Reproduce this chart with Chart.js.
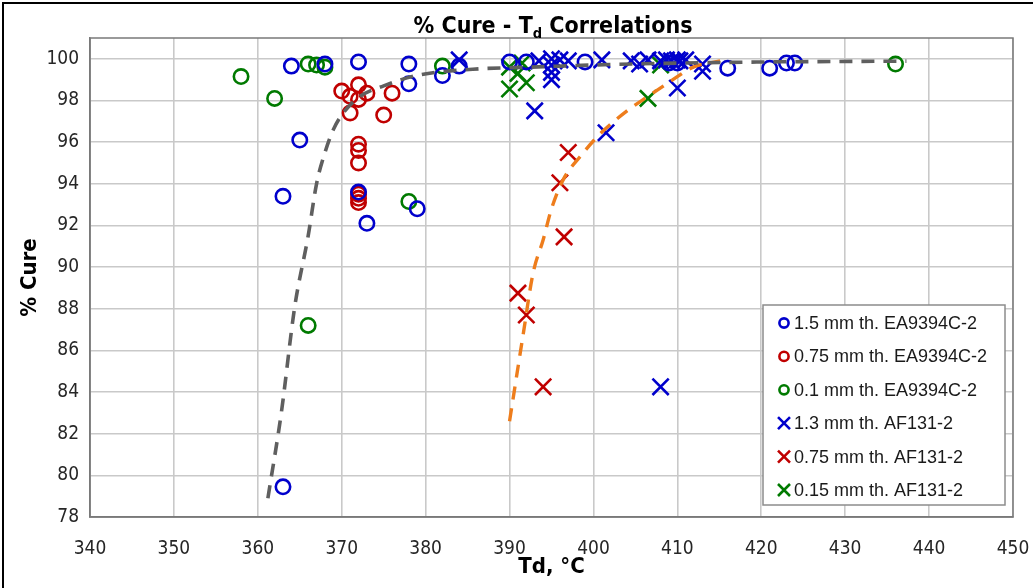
<!DOCTYPE html>
<html>
<head>
<meta charset="utf-8">
<title>% Cure - Td Correlations</title>
<script src="https://cdn.jsdelivr.net/npm/chart.js@4.4.1/dist/chart.umd.min.js"></script>
<style>
  html, body { margin: 0; padding: 0; background: #ffffff; }
  #wrap { position: relative; width: 1033px; height: 588px; overflow: hidden; }
  #frame { position: absolute; left: 2px; top: 2px; width: 1040px; height: 600px;
           border-left: 2px solid #000; border-top: 2px solid #000; pointer-events: none; }
  canvas { display: block; }
</style>
</head>
<body>
<div id="wrap">
  <canvas id="chart" width="1033" height="588"></canvas>
  <div id="frame"></div>
</div>
<script>
// Tick values
const xTicks = [340, 350, 360, 370, 380, 390, 400, 410, 420, 430, 440, 450];
const yTicks = [78, 80, 82, 84, 86, 88, 90, 92, 94, 96, 98, 100];

// Series labels
const seriesLabels = [
  '1.5 mm th. EA9394C-2',
  '0.75 mm th. EA9394C-2',
  '0.1 mm th. EA9394C-2',
  '1.3 mm th. AF131-2',
  '0.75 mm th. AF131-2',
  '0.15 mm th. AF131-2'
];

// EA9394C-2, 1.5 mm  [Td, % cure]
const ea15 = [
  [364, 99.65], [365, 96.1], [363, 93.4], [363, 79.45], [368, 99.75],
  [372, 99.85], [372, 93.6], [373, 92.1], [378, 99.75], [378, 98.8],
  [379, 92.8], [382, 99.2], [384, 99.65], [390, 99.85], [392, 99.85],
  [399, 99.85], [409, 99.8], [410, 99.8], [416, 99.55], [421, 99.55],
  [423, 99.8], [424, 99.8]
];
// EA9394C-2, 0.75 mm
const ea075 = [
  [370, 98.45], [372, 98.75], [371, 98.2], [373, 98.35], [372, 98.05],
  [371, 97.4], [376, 98.35], [375, 97.3], [372, 95.9], [372, 95.6],
  [372, 95.0], [372, 93.5], [372, 93.3], [372, 93.1]
];
// EA9394C-2, 0.1 mm
const ea01 = [
  [358, 99.15], [362, 98.1], [366, 99.75], [367, 99.7], [368, 99.6],
  [366, 87.2], [378, 93.15], [382, 99.65], [436, 99.75]
];
// AF131-2, 1.3 mm
const af13 = [
  [384, 99.95], [393, 97.5], [393.5, 99.9], [395, 100.0], [395, 99.7],
  [395, 99.35], [395, 99.0], [396, 99.95], [397, 99.9], [401, 99.95],
  [401.5, 96.45], [404.5, 99.9], [405.5, 99.75], [406.5, 99.95], [408, 99.9],
  [408.7, 99.95], [409.3, 99.9], [410, 99.95], [410.3, 99.9], [411, 99.95],
  [413, 99.75], [413, 99.4], [410, 98.6], [408, 84.25]
];
// AF131-2, 0.75 mm
const af075 = [
  [397, 95.5], [396, 94.05], [396.5, 91.45], [391, 88.75], [392, 87.7], [394, 84.25]
];
// AF131-2, 0.15 mm
const af015 = [
  [390, 99.6], [391, 99.3], [390, 98.55], [392, 98.85], [391.5, 99.8],
  [408, 99.7], [406.5, 98.1]
];

// Correlation curves
const fitEA = [
  [361.2, 78.9], [362.8, 83.0], [364.4, 88.1], [366.0, 91.5], [367.0, 94.0],
  [368.0, 95.5], [369.0, 96.6], [370.0, 97.3], [372.2, 98.2], [375.0, 98.7],
  [378.9, 99.2], [385.6, 99.5], [392.4, 99.6], [402.3, 99.73], [418.3, 99.84],
  [437.3, 99.89]
];
const fitAF = [
  [390.0, 82.6], [391.6, 86.7], [392.8, 89.7], [394.0, 91.3], [395.0, 92.8],
  [396.4, 94.2], [398.4, 95.3], [400.8, 96.4], [404.0, 97.5], [406.5, 98.2],
  [409.1, 98.9], [411.9, 99.6], [415.1, 99.9]
];

const BLUE = '#0000cc', RED = '#c00000', GREEN = '#007a00';
const NARROW = "'Liberation Sans Narrow', 'DejaVu Sans Condensed', sans-serif";
const toXY = arr => arr.map(([x, y]) => ({ x, y }));

function pointSet(label, data, color, style) {
  const isCross = style === 'crossRot';
  return {
    type: 'scatter', label, data: toXY(data), order: 1,
    pointStyle: style,
    pointRadius: isCross ? 11.5 : 7.2,
    pointHoverRadius: isCross ? 11.5 : 7.2,
    borderColor: color, backgroundColor: 'rgba(0,0,0,0)',
    pointBorderWidth: 2.6, borderWidth: 2.6, showLine: false
  };
}
function fitSet(data, color, width) {
  return {
    type: 'line', label: '', data: toXY(data), order: 0,
    borderColor: color, borderWidth: width, borderDash: [13, 9],
    pointRadius: 0, fill: false, tension: 0.4, cubicInterpolationMode: 'monotone'
  };
}

const markerStyles = [
  [BLUE, 'circle'], [RED, 'circle'], [GREEN, 'circle'],
  [BLUE, 'crossRot'], [RED, 'crossRot'], [GREEN, 'crossRot']
];
const seriesData = [ea15, ea075, ea01, af13, af075, af015];

// Title with subscript, plot frame and boxed legend
const decorations = {
  id: 'decorations',
  afterDraw(chart) {
    const ctx = chart.ctx;
    const a = chart.chartArea;
    ctx.save();
    // plot frame
    ctx.strokeStyle = '#7a7a7a';
    ctx.lineWidth = 1.5;
    ctx.strokeRect(a.left, a.top, a.right - a.left, a.bottom - a.top);

    // title
    const big = "bold 23px " + NARROW, small = "bold 14.5px " + NARROW;
    const p1 = '% Cure - T', p2 = 'd', p3 = ' Correlations';
    ctx.font = big; const w1 = ctx.measureText(p1).width, w3 = ctx.measureText(p3).width;
    ctx.font = small; const w2 = ctx.measureText(p2).width;
    let x = 553 - (w1 + w2 + w3) / 2;
    const base = 33;
    ctx.fillStyle = '#000';
    ctx.textBaseline = 'alphabetic';
    ctx.textAlign = 'left';
    ctx.font = big; ctx.fillText(p1, x, base); x += w1;
    ctx.font = small; ctx.fillText(p2, x, base + 5); x += w2;
    ctx.font = big; ctx.fillText(p3, x, base);

    // legend
    const lx = 763, ly = 305, lw = 242, lh = 200;
    ctx.fillStyle = '#ffffff';
    ctx.fillRect(lx, ly, lw, lh);
    ctx.strokeStyle = '#8c8c8c';
    ctx.lineWidth = 1.5;
    ctx.strokeRect(lx, ly, lw, lh);
    ctx.font = "18px 'Liberation Sans', Arial, sans-serif";
    ctx.textBaseline = 'middle';
    seriesLabels.forEach((lab, i) => {
      const cy = 323 + i * 33.4;
      const [col, st] = markerStyles[i];
      ctx.strokeStyle = col;
      ctx.lineWidth = 2.6;
      ctx.beginPath();
      if (st === 'circle') {
        ctx.arc(784, cy, 4.6, 0, Math.PI * 2);
      } else {
        ctx.moveTo(778, cy - 6); ctx.lineTo(790, cy + 6);
        ctx.moveTo(790, cy - 6); ctx.lineTo(778, cy + 6);
      }
      ctx.stroke();
      ctx.fillStyle = '#1a1a1a';
      ctx.fillText(lab, 794, cy + 1);
    });
    ctx.restore();
  }
};

const datasets = [
  fitSet(fitEA, '#5f5f5f', 3.6),
  fitSet(fitAF, '#ee7d1c', 3.4),
  ...seriesData.map((d, i) => pointSet(seriesLabels[i], d, markerStyles[i][0], markerStyles[i][1]))
];

new Chart(document.getElementById('chart'), {
  type: 'scatter',
  data: { datasets },
  options: {
    responsive: false,
    animation: false,
    events: [],
    layout: { padding: { top: 38, right: 20, left: 0, bottom: 0 } },
    plugins: { legend: { display: false }, title: { display: false }, tooltip: { enabled: false } },
    scales: {
      x: {
        type: 'linear', min: xTicks[0], max: xTicks[xTicks.length - 1],
        afterFit(s) { s.height = 71; s.paddingLeft = 0; s.paddingRight = 0; },
        afterBuildTicks(s) { s.ticks = xTicks.map(v => ({ value: v })); },
        grid: { color: '#c9c9c9', lineWidth: 1.6, drawTicks: false },
        border: { color: '#7a7a7a', width: 1.5 },
        ticks: { padding: 21, color: '#262626', font: { family: NARROW, size: 19 } },
        title: { display: true, text: 'Td, °C', color: '#000',
                 font: { family: NARROW, size: 22, weight: 'bold' }, padding: { top: 0, bottom: 8 } }
      },
      y: {
        type: 'linear', min: 78, max: 101,
        afterFit(s) { s.width = 90; s.paddingTop = 0; s.paddingBottom = 0; },
        afterBuildTicks(s) { s.ticks = yTicks.map(v => ({ value: v })); },
        grid: { color: '#c9c9c9', lineWidth: 1.6, drawTicks: false },
        border: { color: '#7a7a7a', width: 1.5 },
        ticks: { padding: 11, color: '#262626', font: { family: NARROW, size: 19 } },
        title: { display: true, text: '% Cure', color: '#000',
                 font: { family: NARROW, size: 22, weight: 'bold' }, padding: { top: 17, bottom: 0 } }
      }
    }
  },
  plugins: [decorations]
});
</script>
</body>
</html>
